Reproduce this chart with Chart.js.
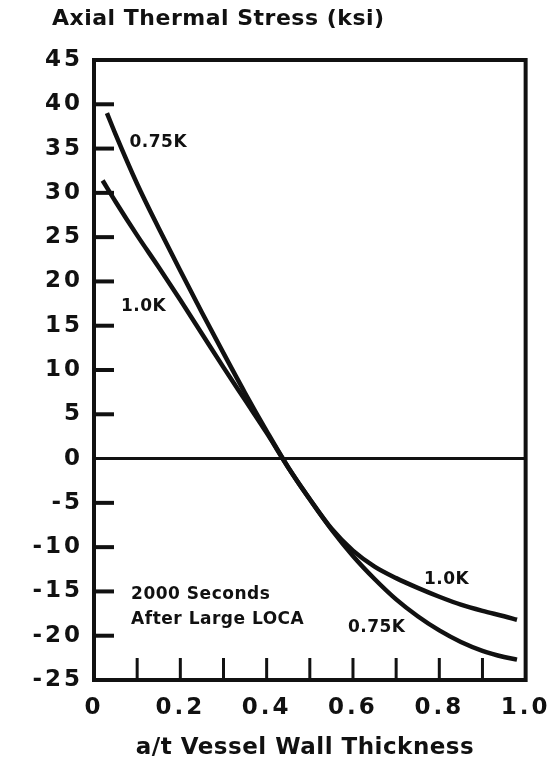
<!DOCTYPE html>
<html>
<head>
<meta charset="utf-8">
<title>Axial Thermal Stress</title>
<script src="https://cdn.jsdelivr.net/npm/chart.js@4"></script>
<style>
  html, body { margin: 0; padding: 0; background: #fff; }
  #wrap { width: 560px; height: 764px; }
</style>
</head>
<body>
<div id="wrap"><canvas id="stressChart" width="560" height="764"></canvas></div>
<script>
// --- Data: axial thermal stress (ksi) vs crack depth a/t ---
const depth075 = [0.03, 0.05, 0.1, 0.15, 0.2, 0.25, 0.3, 0.35, 0.4, 0.45, 0.5, 0.55, 0.6, 0.65, 0.7, 0.75, 0.8, 0.85, 0.9, 0.95, 0.98];
const stress075 = [39.0, 36.6, 31.0, 26.0, 21.2, 16.5, 11.9, 7.4, 3.1, -1.0, -4.6, -8.0, -11.0, -13.6, -15.9, -17.8, -19.4, -20.7, -21.7, -22.4, -22.7];

const depth100 = [0.02, 0.05, 0.1, 0.15, 0.2, 0.25, 0.3, 0.35, 0.4, 0.45, 0.5, 0.55, 0.6, 0.65, 0.7, 0.75, 0.8, 0.85, 0.9, 0.95, 0.98];
const stress100 = [31.4, 29.0, 25.2, 21.6, 17.9, 14.1, 10.3, 6.6, 2.9, -1.0, -4.6, -7.9, -10.4, -12.2, -13.5, -14.6, -15.6, -16.5, -17.2, -17.8, -18.2];

// axis ranges and the short inward tick marks
const yMin = -25, yMax = 45, yStep = 5;
const xMin = 0, xMax = 1, xStep = 0.2;
const xInnerTicks = [0.1, 0.2, 0.3, 0.4, 0.5, 0.6, 0.7, 0.8, 0.9];
const yInnerTicks = [40, 35, 30, 25, 20, 15, 10, 5, -5, -10, -15, -20];

// curve names and the note, anchored in data units
const curveNotes = [
    { text: '0.75K', x: 0.149, y: 35.7, align: 'center' },
    { text: '1.0K', x: 0.115, y: 17.2, align: 'center' },
    { text: '1.0K', x: 0.817, y: -13.7, align: 'center' },
    { text: '0.75K', x: 0.655, y: -19.1, align: 'center' },
    { text: '2000 Seconds', x: 0.086, y: -15.3, align: 'left' },
    { text: 'After Large LOCA', x: 0.086, y: -18.2, align: 'left' }
];

const INK = '#111';
const FONT = '"DejaVu Sans", "Liberation Sans", sans-serif';

document.addEventListener('DOMContentLoaded', function () {

    const toPoints = (xs, ys) => xs.map((x, i) => ({ x: x, y: ys[i] }));

    // --- Frame, inner ticks and text ---
    const framePlugin = {
        id: 'frame',
        beforeDraw(chart) {
            // wide-set tick digits
            chart.ctx.letterSpacing = '3px';
        },
        afterDraw(chart) {
            const { ctx, chartArea: a, scales } = chart;
            const sx = scales.x, sy = scales.y;
            ctx.save();
            ctx.strokeStyle = INK;
            ctx.lineCap = 'butt';

            // box
            ctx.lineWidth = 4;
            ctx.strokeRect(a.left, a.top, a.right - a.left, a.bottom - a.top);

            // left ticks pointing in
            ctx.lineWidth = 4;
            yInnerTicks.forEach(v => {
                const y = sy.getPixelForValue(v);
                ctx.beginPath();
                ctx.moveTo(a.left, y);
                ctx.lineTo(a.left + 20, y);
                ctx.stroke();
            });

            // bottom ticks pointing up
            ctx.lineWidth = 3;
            xInnerTicks.forEach(v => {
                const x = sx.getPixelForValue(v);
                ctx.beginPath();
                ctx.moveTo(x, a.bottom);
                ctx.lineTo(x, a.bottom - 22);
                ctx.stroke();
            });

            ctx.fillStyle = INK;
            ctx.textBaseline = 'middle';

            // curve labels and note
            ctx.letterSpacing = '0.5px';
            ctx.font = 'bold 17px ' + FONT;
            curveNotes.forEach(n => {
                ctx.textAlign = n.align;
                ctx.fillText(n.text, sx.getPixelForValue(n.x), sy.getPixelForValue(n.y));
            });

            // axis titles
            ctx.font = 'bold 22px ' + FONT;
            ctx.textAlign = 'left';
            ctx.fillText('Axial Thermal Stress (ksi)', 52, 19);

            ctx.font = 'bold 23px ' + FONT;
            ctx.textAlign = 'center';
            ctx.fillText('a/t Vessel Wall Thickness', 305, 748);
            ctx.restore();
        }
    };

    const lineStyle = {
        borderColor: INK,
        borderWidth: 4.5,
        pointRadius: 0,
        fill: false,
        cubicInterpolationMode: 'monotone'
    };

    new Chart(document.getElementById('stressChart').getContext('2d'), {
        type: 'line',
        data: {
            datasets: [
                Object.assign({ label: '0.75K', data: toPoints(depth075, stress075) }, lineStyle),
                Object.assign({ label: '1.0K', data: toPoints(depth100, stress100) }, lineStyle)
            ]
        },
        options: {
            responsive: false,
            animation: false,
            layout: { padding: { left: 0, right: 23, top: 60, bottom: 0 } },
            plugins: {
                legend: { display: false },
                tooltip: { enabled: false }
            },
            scales: {
                x: {
                    type: 'linear',
                    min: xMin,
                    max: xMax,
                    afterFit: s => { s.height = 84; },
                    grid: { display: false, drawTicks: false },
                    border: { display: false },
                    ticks: {
                        stepSize: xStep,
                        padding: 14,
                        color: INK,
                        font: { family: FONT, size: 23, weight: 'bold' },
                        maxRotation: 0,
                        callback: v => v === 0 ? '0' : v.toFixed(1)
                    }
                },
                y: {
                    min: yMin,
                    max: yMax,
                    afterFit: s => { s.width = 94; },
                    grid: {
                        drawTicks: false,
                        color: c => c.tick && c.tick.value === 0 ? INK : 'transparent',
                        lineWidth: 3
                    },
                    border: { display: false },
                    ticks: {
                        stepSize: yStep,
                        padding: 11,
                        color: INK,
                        font: { family: FONT, size: 23, weight: 'bold' }
                    }
                }
            }
        },
        plugins: [framePlugin]
    });
});
</script>
</body>
</html>
